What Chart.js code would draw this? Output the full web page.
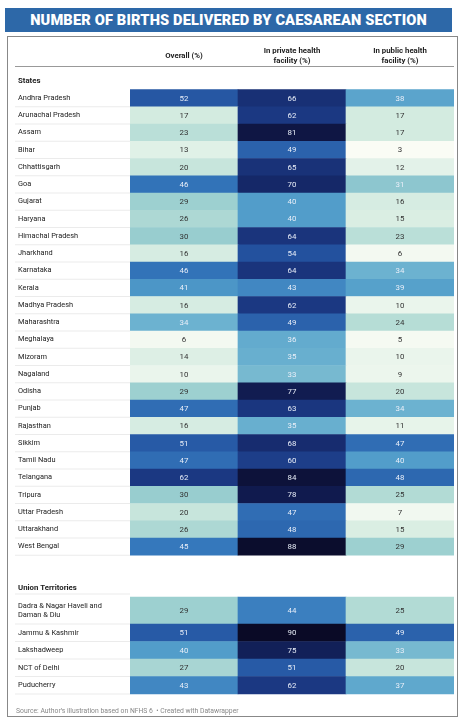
<!DOCTYPE html>
<html><head><meta charset="utf-8">
<script src="https://cdn.jsdelivr.net/npm/chart.js@4"></script>
<style>
body{margin:0;background:#fff;font-family:Roboto,sans-serif;}
#title{position:absolute;left:5px;top:8px;width:447px;height:24px;background:#2d68a8;color:#fff;font:900 14.6px Roboto,sans-serif;line-height:24px;text-align:center;letter-spacing:0.15px;white-space:nowrap;}
#box{position:absolute;left:7px;top:36px;width:451px;height:681px;border:1px solid #888;box-sizing:border-box;}
#box canvas{position:absolute;left:0;top:0;}
</style></head><body>
<div id="title">NUMBER OF BIRTHS DELIVERED BY CAESAREAN SECTION</div>
<div id="box"><canvas id="c"></canvas></div>
<script>
const columns = ['Overall (%)', 'In private health\nfacility (%)', 'In public health\nfacility (%)'];
const states = ['Andhra Pradesh','Arunachal Pradesh','Assam','Bihar','Chhattisgarh','Goa','Gujarat','Haryana','Himachal Pradesh','Jharkhand','Karnataka','Kerala','Madhya Pradesh','Maharashtra','Meghalaya','Mizoram','Nagaland','Odisha','Punjab','Rajasthan','Sikkim','Tamil Nadu','Telangana','Tripura','Uttar Pradesh','Uttarakhand','West Bengal'];
const stateOverall = [52,17,23,13,20,46,29,26,30,16,46,41,16,34,6,14,10,29,47,16,51,47,62,30,20,26,45];
const statePrivate = [66,62,81,49,65,70,40,40,64,54,64,43,62,49,36,35,33,77,63,35,68,60,84,78,47,48,88];
const statePublic = [38,17,17,3,12,31,16,15,23,6,34,39,10,24,5,10,9,20,34,11,47,40,48,25,7,15,29];
const uts = ['Dadra & Nagar Haveli and\nDaman & Diu','Jammu & Kashmir','Lakshadweep','NCT of Delhi','Puducherry'];
const utOverall = [29,51,40,27,43];
const utPrivate = [44,90,75,51,62];
const utPublic = [25,49,33,20,37];

const stops = [[0,'#ffffff'],[3,'#fafcf5'],[10,'#eaf5ec'],[17,'#d3ebe0'],[25,'#b2dbd5'],[30,'#98cdcf'],[34,'#6cb2d0'],[40,'#529dca'],[45,'#3578bc'],[50,'#285da8'],[55,'#224e9c'],[62,'#1b3882'],[70,'#152868'],[80,'#0f1747'],[90,'#0a0a26']];
function hex(h){return [1,3,5].map(i=>parseInt(h.substr(i,2),16));}
function colorFor(v){
  for(let i=1;i<stops.length;i++){
    if(v<=stops[i][0]){
      const [a,ca]=stops[i-1],[b,cb]=stops[i];const t=(v-a)/(b-a);
      const A=hex(ca),B=hex(cb);
      return 'rgb('+A.map((x,k)=>Math.round(x+(B[k]-x)*t)).join(',')+')';
    }
  }
  return stops[stops.length-1][1];
}

// rows in box-pixel units (y axis 0..681, top down)
const rows = [];
let y = 52.5;
states.forEach((s,i)=>{rows.push({label:s,top:y,bot:y+17.25,vals:[stateOverall[i],statePrivate[i],statePublic[i]]});y+=17.25;});
y = 560;
uts.forEach((s,i)=>{const h=i===0?27:17.5;rows.push({label:s,top:y,bot:y+h,vals:[utOverall[i],utPrivate[i],utPublic[i]]});y+=h;});

const cells = [];
rows.forEach(r=>r.vals.forEach((v,c)=>cells.push({x:columns[c],y:[r.top,r.bot],v:v})));

const H = 681, W = 451;
const cv = document.getElementById('c');
cv.width = W; cv.height = H; cv.style.width=W+'px'; cv.style.height=H+'px';

const overlay = {
  id:'overlay',
  afterDatasetsDraw(chart){
    const ctx = chart.ctx, ys = chart.scales.y, xs = chart.scales.x;
    const left = 7, right = chart.chartArea.right;
    ctx.save();
    ctx.textBaseline='middle';
    // header
    ctx.fillStyle='#222'; ctx.font='bold 7.8px Roboto'; ctx.textAlign='center';
    columns.forEach((c,i)=>{
      const px = xs.getPixelForValue(i);
      const lines=c.split('\n');
      const y0 = lines.length===1 ? 19.5 : 14;
      lines.forEach((l,k)=>ctx.fillText(l,px,y0+k*10));
    });
    ctx.strokeStyle='#999'; ctx.lineWidth=1.2;
    ctx.beginPath(); ctx.moveTo(left,29.5); ctx.lineTo(right,29.5); ctx.stroke();
    ctx.textAlign='left';
    ctx.fillText('States',left+3,ys.getPixelForValue(44));
    ctx.fillText('Union Territories',left+3,ys.getPixelForValue(551));
    // labels and row lines
    ctx.strokeStyle='#e2e2e2'; ctx.lineWidth=0.7;
    ctx.beginPath(); ctx.moveTo(left,ys.getPixelForValue(557)); ctx.lineTo(chart.chartArea.left,ys.getPixelForValue(557)); ctx.stroke();
    rows.forEach(r=>{
      const t=ys.getPixelForValue(r.top), b=ys.getPixelForValue(r.bot);
      ctx.beginPath(); ctx.moveTo(left,b); ctx.lineTo(chart.chartArea.left,b); ctx.stroke();
      ctx.fillStyle='#222'; ctx.font='7.4px Roboto';
      const lines=r.label.split('\n');
      const mid=(t+b)/2;
      lines.forEach((l,k)=>ctx.fillText(l,left+3,mid+(k-(lines.length-1)/2)*8.8));
    });
    // values
    ctx.textAlign='center'; ctx.font='7.9px Roboto';
    const meta = chart.getDatasetMeta(0);
    meta.data.forEach((bar,i)=>{
      const v = cells[i].v;
      ctx.fillStyle = v>=31 ? '#e8eef8' : '#333';
      ctx.fillText(String(v), bar.x, (bar.y+bar.base)/2+0.5);
    });
    // source
    ctx.fillStyle='#888'; ctx.font='6.8px Roboto';
    ctx.textAlign='left';
    ctx.fillText('Source: Author\u2019s illustration based on NFHS 6  \u2022 Created with Datawrapper',left+1,674);
    ctx.restore();
  }
};

new Chart(cv,{
  type:'bar',
  data:{datasets:[{data:cells,backgroundColor:ctx=>colorFor(ctx.raw?ctx.raw.v:0),borderWidth:0,barPercentage:1,categoryPercentage:1}]},
  options:{
    responsive:false,animation:false,
    layout:{padding:{left:122,right:5,top:0,bottom:0}},
    plugins:{legend:{display:false},tooltip:{enabled:false}},
    scales:{
      x:{type:'category',labels:columns,display:false,offset:true},
      y:{type:'linear',min:0,max:H,reverse:true,display:false}
    }
  },
  plugins:[overlay]
});
</script>
</body></html>
